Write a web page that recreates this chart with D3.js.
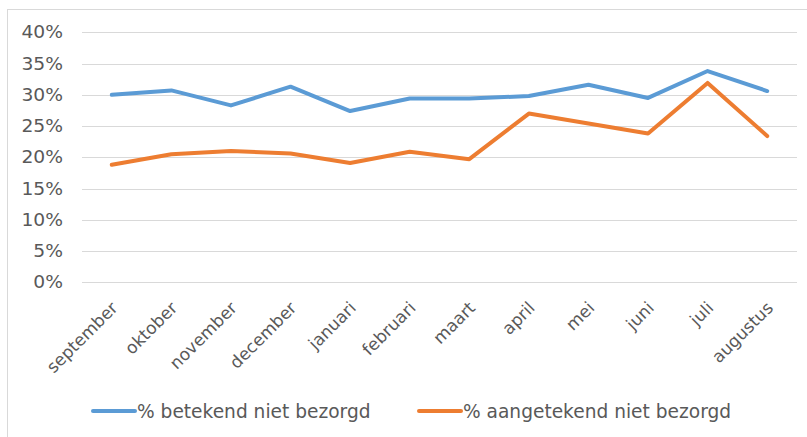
<!DOCTYPE html>
<html>
<head>
<meta charset="utf-8">
<script src="https://cdn.jsdelivr.net/npm/d3@7"></script>
<style>
  body { margin: 0; background: #fff; }
  text { font-family: "DejaVu Sans", Verdana, sans-serif; fill: #595959; }
</style>
</head>
<body>
<svg id="chart" width="807" height="437"></svg>
<script>
const months = ["september", "oktober", "november", "december", "januari", "februari",
  "maart", "april", "mei", "juni", "juli", "augustus"];
const betekend = [30.0, 30.7, 28.3, 31.3, 27.4, 29.4, 29.4, 29.8, 31.6, 29.5, 33.8, 30.6];
const aangetekend = [18.8, 20.5, 21.0, 20.6, 19.1, 20.9, 19.7, 27.0, 25.4, 23.8, 31.9, 23.4];
const yTicks = [0, 5, 10, 15, 20, 25, 30, 35, 40];
const seriesNames = ["% betekend niet bezorgd", "% aangetekend niet bezorgd"];
const colors = ["#5B9BD5", "#ED7D31"];

const svg = d3.select("#chart");
const plotLeft = 82, plotRight = 797, plotTop = 32.3, plotBottom = 282.3;

// chart frame (only left and top edges fall inside the window)
svg.append("rect")
  .attr("x", 7.5).attr("y", 9.5)
  .attr("width", 830).attr("height", 450)
  .attr("fill", "none")
  .attr("stroke", "#D9D9D9");

let x = d3.scalePoint()
  .domain(months)
  .range([plotLeft, plotRight])
  .padding(0.5);

let y = d3.scaleLinear()
  .domain([0, 40])
  .range([plotBottom, plotTop]);

// gridlines
svg.append("g")
  .selectAll("line")
  .data(yTicks)
  .enter().append("line")
  .attr("x1", plotLeft).attr("x2", plotRight)
  .attr("y1", d => Math.round(y(d)) + 0.5)
  .attr("y2", d => Math.round(y(d)) + 0.5)
  .attr("stroke", "#D9D9D9")
  .attr("stroke-width", 1);

// y labels (font in the original is a bit wider)
svg.append("g")
  .selectAll("text")
  .data(yTicks)
  .enter().append("text")
  .attr("transform", d => `translate(63,${y(d)}) scale(1.1,1)`)
  .attr("dy", "0.36em")
  .attr("text-anchor", "end")
  .style("font-size", "17px")
  .text(d => d + "%");

// x labels
svg.append("g")
  .selectAll("text")
  .data(months)
  .enter().append("text")
  .attr("transform", d => `translate(${x(d) - 2},${300}) rotate(-45)`)
  .attr("text-anchor", "end")
  .attr("dy", "0.75em")
  .style("font-size", "17px")
  .text(d => d);

// lines
let line = d3.line()
  .x((d, i) => x(months[i]))
  .y(d => y(d));

[betekend, aangetekend].forEach((vals, k) => {
  svg.append("path")
    .datum(vals)
    .attr("d", line)
    .attr("fill", "none")
    .attr("stroke", colors[k])
    .attr("stroke-width", 4)
    .attr("stroke-linejoin", "round")
    .attr("stroke-linecap", "round");
});

// legend
const legendX = [93, 419];
let legendElem = svg.append("g")
  .selectAll("g")
  .data(seriesNames)
  .enter().append("g")
  .attr("transform", (d, i) => `translate(${legendX[i]},411)`);

legendElem.append("line")
  .attr("x1", 0).attr("x2", 42)
  .attr("stroke", (d, i) => colors[i])
  .attr("stroke-width", 4)
  .attr("stroke-linecap", "round");

legendElem.append("text")
  .attr("x", 44)
  .attr("dy", "0.36em")
  .style("font-size", "18.6px")
  .text(d => d);
</script>
</body>
</html>
